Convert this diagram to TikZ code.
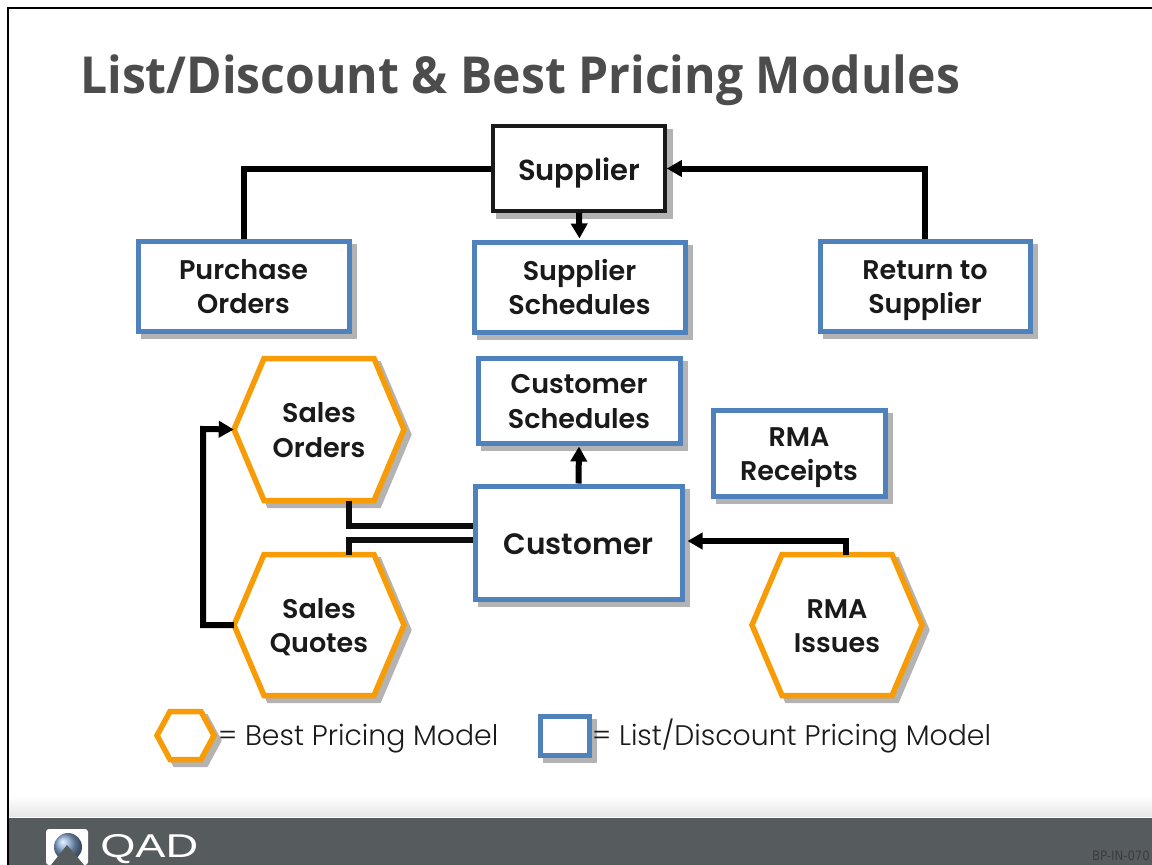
\documentclass[tikz,border=0pt]{standalone}
\usepackage{fontspec}
\usetikzlibrary{arrows.meta,calc,shadings}
\setmainfont{Poppins}
\newfontfamily\titlefont{Open Sans}[BoldFont=* Bold]
\newfontfamily\labfont{Poppins}[BoldFont=* SemiBold]
\newfontfamily\legfont{Poppins}[UprightFont=* Light]
\newfontfamily\logofont{Liberation Sans}
\newfontfamily\codefont{DejaVu Sans Condensed}
\definecolor{barblue}{HTML}{4F81BD}
\definecolor{hexorange}{HTML}{F79C06}
\definecolor{shade}{HTML}{B3B3B3}
\definecolor{footer}{HTML}{565B5D}
\definecolor{ink}{HTML}{1A1A1A}
% one text line of fixed height and depth, so descenders do not shift the block
\newcommand{\lineof}[1]{\rule[-7pt]{0pt}{34.5pt}\smash{#1}}
\newcommand{\oneline}[1]{\rule[-5pt]{0pt}{34.5pt}\smash{#1}}
\tikzset{
  x=1pt,y=-1pt,
  boxbase/.style={align=center,inner sep=0pt,text=ink,font=\labfont\bfseries\fontsize{27}{34.5}\selectfont,fill=white},
  bluebox/.style={boxbase,draw=barblue,line width=5pt},
  blackbox/.style={boxbase,draw=ink,line width=3.5pt},
  hexline/.style={draw=hexorange,fill=white,line width=5.5pt,line join=miter},
  hexshade/.style={draw=shade,fill=shade,line width=5pt,line join=miter},
  boxshade/.style={draw=shade,fill=shade,line width=5pt},
  hexlabel/.style={align=center,inner sep=0pt,text=ink,font=\labfont\bfseries\fontsize{27}{34.5}\selectfont},
  link/.style={draw=black,line width=6pt},
  thinlink/.style={draw=black!95,line width=5.5pt},
  arrowlink/.style={link,-{Triangle[length=15pt,width=16pt]}},
  legendtext/.style={font=\legfont\fontsize{28.3}{32}\selectfont,text=ink,anchor=base west,inner sep=0pt},
}
% name, left, top, right, bottom, text, corner inset
\newcommand{\hexshape}[7]{%
  \path[hexshade] ({#2+5},{(#3+#5)/2+5}) -- ({#2+#7+5},{#3+5}) -- ({#4-#7+5},{#3+5}) -- ({#4+5},{(#3+#5)/2+5}) -- ({#4-#7+5},{#5+5}) -- ({#2+#7+5},{#5+5}) -- cycle;
  \path[hexline] (#2,{(#3+#5)/2}) -- ({#2+#7},#3) -- ({#4-#7},#3) -- (#4,{(#3+#5)/2}) -- ({#4-#7},#5) -- ({#2+#7},#5) -- cycle;
  \node[hexlabel,minimum width={(#4-#2)*1pt},minimum height={(#5-#3)*1pt}] (#1) at ({(#2+#4)/2},{(#3+#5)/2}) {#6};
}
% name, left, top, right, bottom, style, text
\newcommand{\boxshape}[7]{%
  \path[boxshade] ({#2+5},{#3+5}) rectangle ({#4+5},{#5+5});
  \node[#6,minimum width={(#4-#2)*1pt},minimum height={(#5-#3)*1pt}] (#1) at ({(#2+#4)/2},{(#3+#5)/2}) {#7};
}
\begin{document}
\begin{tikzpicture}
\useasboundingbox (0,0) rectangle (1152,865);
\fill[white] (0,0) rectangle (1152,865);
% frame and footer
\shade[top color=white,bottom color=black!9] (8,795) rectangle (1152,816);
\fill[footer] (8,818) rectangle (1152,865);
\draw[black,line width=2pt] (7.5,865) -- (7.5,7.5) -- (1152,7.5);
% logo
\fill[white,rounded corners=3pt] (46,829) rectangle (88,865);
\shade[ball color=barblue!70!white] (68,847) circle (14pt);
\fill[footer] (51,865) -- (67,845) -- (84,865) -- cycle;
\node[anchor=base west,inner sep=0pt,text=white,font=\logofont\fontsize{33}{33}\selectfont,xscale=1.37] (qad) at (100,857) {QAD};
\node[anchor=base east,inner sep=0pt,text=ink!85,font=\codefont\fontsize{13}{13}\selectfont] (code) at (1150,860) {BP-IN-070};
% title
\node[anchor=base west,inner sep=0pt,text=black!70,font=\titlefont\bfseries\fontsize{51}{51}\selectfont,xscale=.943] (title) at (80,93) {List/Discount \& Best Pricing Modules};
% boxes
\boxshape{supplier}{493}{126}{665}{211}{blackbox,font=\labfont\bfseries\fontsize{29}{34}\selectfont}{\oneline{Supplier}}
\boxshape{po}{138}{241}{349}{331}{bluebox}{\lineof{Purchase}\\\lineof{Orders}}
\boxshape{ss}{474}{242}{685}{332}{bluebox}{\lineof{Supplier}\\\lineof{Schedules}}
\boxshape{rts}{820}{241}{1030}{331}{bluebox}{\lineof{Return to}\\\lineof{Supplier}}
\boxshape{cs}{478}{358}{680}{443}{bluebox}{\lineof{Customer}\\\lineof{Schedules}}
\boxshape{rr}{713}{410}{885}{496}{bluebox}{\lineof{RMA}\\\lineof{Receipts}}
\boxshape{cust}{475}{486}{682}{599}{bluebox,font=\labfont\bfseries\fontsize{29.5}{36}\selectfont}{\oneline{Customer}}
% hexagons
\hexshape{so}{234}{358.5}{404}{500.5}{\lineof{Sales}\\\lineof{Orders}}{30}
\hexshape{sq}{234}{554.5}{404}{695.5}{\lineof{Sales}\\\lineof{Quotes}}{30}
\hexshape{ri}{752}{554.5}{922}{695.5}{\lineof{RMA}\\\lineof{Issues}}{30}
% legend
\hexshape{lhex}{157}{711.5}{214}{759.5}{}{13}
\boxshape{lbox}{540}{716}{589}{755}{bluebox}{}
\node[legendtext] (lt1) at (218,745) {= Best Pricing Model};
\node[legendtext] (lt2) at (592,745) {= List/Discount Pricing Model};
% connectors
\coordinate (poUp) at (po.north |- supplier.west);
\coordinate (rtsUp) at (rts.north |- supplier.east);
\draw[link,line join=miter] (po.north) -- (poUp) -- (supplier.west);
\draw[arrowlink] (rts.north) -- (rtsUp) -- (supplier.east);
\draw[arrowlink,shorten >=1pt] (supplier.south) -- (ss.north);
\draw[arrowlink,shorten >=1pt] (cust.north) -- (cs.south);
\coordinate (soDown) at (349,500.5);
\coordinate (soTurn) at (349,526);
\coordinate (custA) at (cust.west |- soTurn);
\draw[thinlink] (soDown) -- (soTurn) -- (custA);
\coordinate (sqUp) at (349,554.5);
\coordinate (sqTurn) at (349,540);
\coordinate (custB) at (cust.west |- sqTurn);
\draw[thinlink] (sqUp) -- (sqTurn) -- (custB);
\coordinate (loopB) at (203,625);
\coordinate (loopT) at (203,429);
\draw[arrowlink] (sq.west) -- (loopB) -- (loopT) -- (so.west);
\coordinate (riUp) at (846,554.5);
\coordinate (riTurn) at (846,541);
\coordinate (custC) at (cust.east |- riTurn);
\draw[arrowlink,shorten >=3pt] (riUp) -- (riTurn) -- (custC);
\end{tikzpicture}
\end{document}
